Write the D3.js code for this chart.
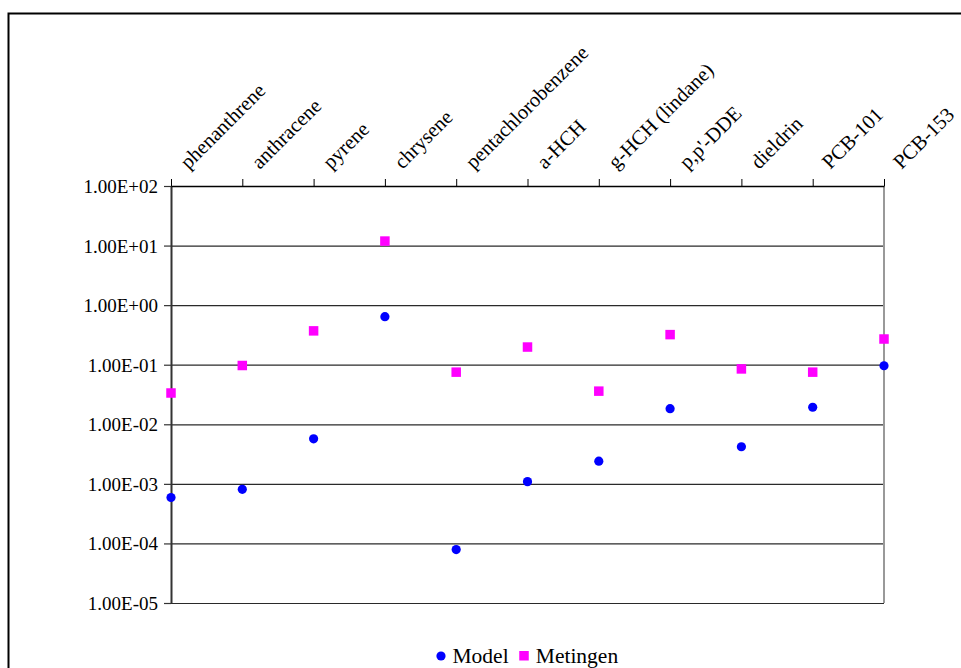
<!DOCTYPE html>
<html>
<head>
<meta charset="utf-8">
<script src="https://cdn.jsdelivr.net/npm/d3@7"></script>
<style>
  body { margin: 0; background: #fff; }
</style>
</head>
<body>
<div class="vis-scatter"></div>
<script>
// data
const categories = ["phenanthrene", "anthracene", "pyrene", "chrysene", "pentachlorobenzene",
    "a-HCH", "g-HCH (lindane)", "p,p'-DDE", "dieldrin", "PCB-101", "PCB-153"];
const modelValues = [5.9e-4, 8.1e-4, 5.7e-3, 0.64, 7.9e-5, 1.09e-3, 2.4e-3, 0.0183, 4.2e-3, 0.0193, 0.096];
const metingenValues = [0.0335, 0.097, 0.37, 11.9, 0.075, 0.198, 0.036, 0.32, 0.085, 0.075, 0.27];
const yTicks = [1e-5, 1e-4, 1e-3, 1e-2, 1e-1, 1e0, 1e1, 1e2];
const seriesNames = ["Model", "Metingen"];

const config = {
    "model-color": "#0000ff",
    "metingen-color": "#ff00ff",
    "grid-color": "#2a2a2a",
    "font": "'Liberation Serif', 'DejaVu Serif', serif"
};

const W = 961, H = 668;
const margin = { top: 186, right: 77, bottom: 65, left: 171 };
const width = W - margin.left - margin.right;
const height = H - margin.top - margin.bottom;

// Excel-ish scientific format: 1.00E+02
const sci = v => {
    const [m, e] = v.toExponential(2).split("e");
    const n = parseInt(e, 10);
    return m + "E" + (n < 0 ? "-" : "+") + String(Math.abs(n)).padStart(2, "0");
};

const root = d3.select(".vis-scatter")
    .append("svg")
    .attr("width", W)
    .attr("height", H);

// outer chart border (runs off the right/bottom edge)
root.append("rect")
    .attr("x", 8.5).attr("y", 13.5)
    .attr("width", 1000).attr("height", 700)
    .attr("fill", "none")
    .attr("stroke", "#000")
    .attr("stroke-width", 2);

const svg = root.append("g")
    .attr("transform", "translate(" + margin.left + "," + margin.top + ")");

let x = d3.scalePoint()
    .domain(categories)
    .range([0, width]);

let y = d3.scaleLog()
    .domain([1e-5, 1e2])
    .range([height, 0]);

// gridlines
svg.append("g")
    .attr("class", "grid")
    .call(d3.axisLeft(y).tickValues(yTicks).tickSize(-width).tickFormat(""))
    .call(g => g.select(".domain").remove())
    .selectAll("line")
    .attr("stroke", config["grid-color"])
    .attr("stroke-width", 1.2);

// right frame line
svg.append("line")
    .attr("x1", width).attr("x2", width)
    .attr("y1", 0).attr("y2", height)
    .attr("stroke", "#999")
    .attr("stroke-width", 2);

// y axis
const yAxis = svg.append("g")
    .call(d3.axisLeft(y).tickValues(yTicks).tickSize(7).tickSizeOuter(0).tickPadding(6).tickFormat(sci));
yAxis.attr("font-family", config.font).attr("font-size", 19);
yAxis.select(".domain").attr("stroke", "#333").attr("stroke-width", 2);
yAxis.selectAll(".tick line").attr("stroke", "#333").attr("stroke-width", 1.2);
yAxis.selectAll("text")
    .attr("fill", "#000")
    .attr("dy", "0.34em");

// x axis on top
const xAxis = svg.append("g")
    .call(d3.axisTop(x).tickSize(7).tickSizeOuter(0));
xAxis.attr("font-family", config.font).attr("font-size", 20.5);
xAxis.select(".domain").attr("stroke", "#000").attr("stroke-width", 1.5);
xAxis.selectAll(".tick line").attr("stroke", "#000").attr("stroke-width", 1);
xAxis.selectAll("text")
    .attr("fill", "#000")
    .attr("text-anchor", "start")
    .attr("dy", 0)
    .attr("y", 0)
    .attr("transform", "translate(17,-16)rotate(-45)");

// Model: circles
svg.append("g")
    .selectAll("circle")
    .data(modelValues)
    .enter()
    .append("circle")
    .attr("cx", (d, i) => x(categories[i]))
    .attr("cy", d => y(d))
    .attr("r", 4.6)
    .attr("fill", config["model-color"]);

// Metingen: squares
const sq = 9.5;
svg.append("g")
    .selectAll("rect")
    .data(metingenValues)
    .enter()
    .append("rect")
    .attr("x", (d, i) => x(categories[i]) - sq / 2)
    .attr("y", d => y(d) - sq / 2)
    .attr("width", sq)
    .attr("height", sq)
    .attr("fill", config["metingen-color"]);

// legend
const legend = root.append("g")
    .attr("font-family", config.font)
    .attr("font-size", 21.5);
const items = legend.selectAll("g")
    .data(seriesNames)
    .enter()
    .append("g");
items.each(function (d, i) {
    const g = d3.select(this);
    if (i === 0) {
        g.append("circle").attr("cx", 5).attr("cy", -7).attr("r", 4.6).attr("fill", config["model-color"]);
    } else {
        g.append("rect").attr("x", 0).attr("y", -12).attr("width", 9.5).attr("height", 9.5).attr("fill", config["metingen-color"]);
    }
    g.append("text")
        .attr("x", 16.5)
        .attr("fill", "#000")
        .text(d);
});
let offset = 0;
items.each(function () {
    d3.select(this).attr("transform", `translate(${offset}, 0)`);
    offset += this.getBBox().width + 11;
});
legend.attr("transform", "translate(436, 663)");
</script>
</body>
</html>
